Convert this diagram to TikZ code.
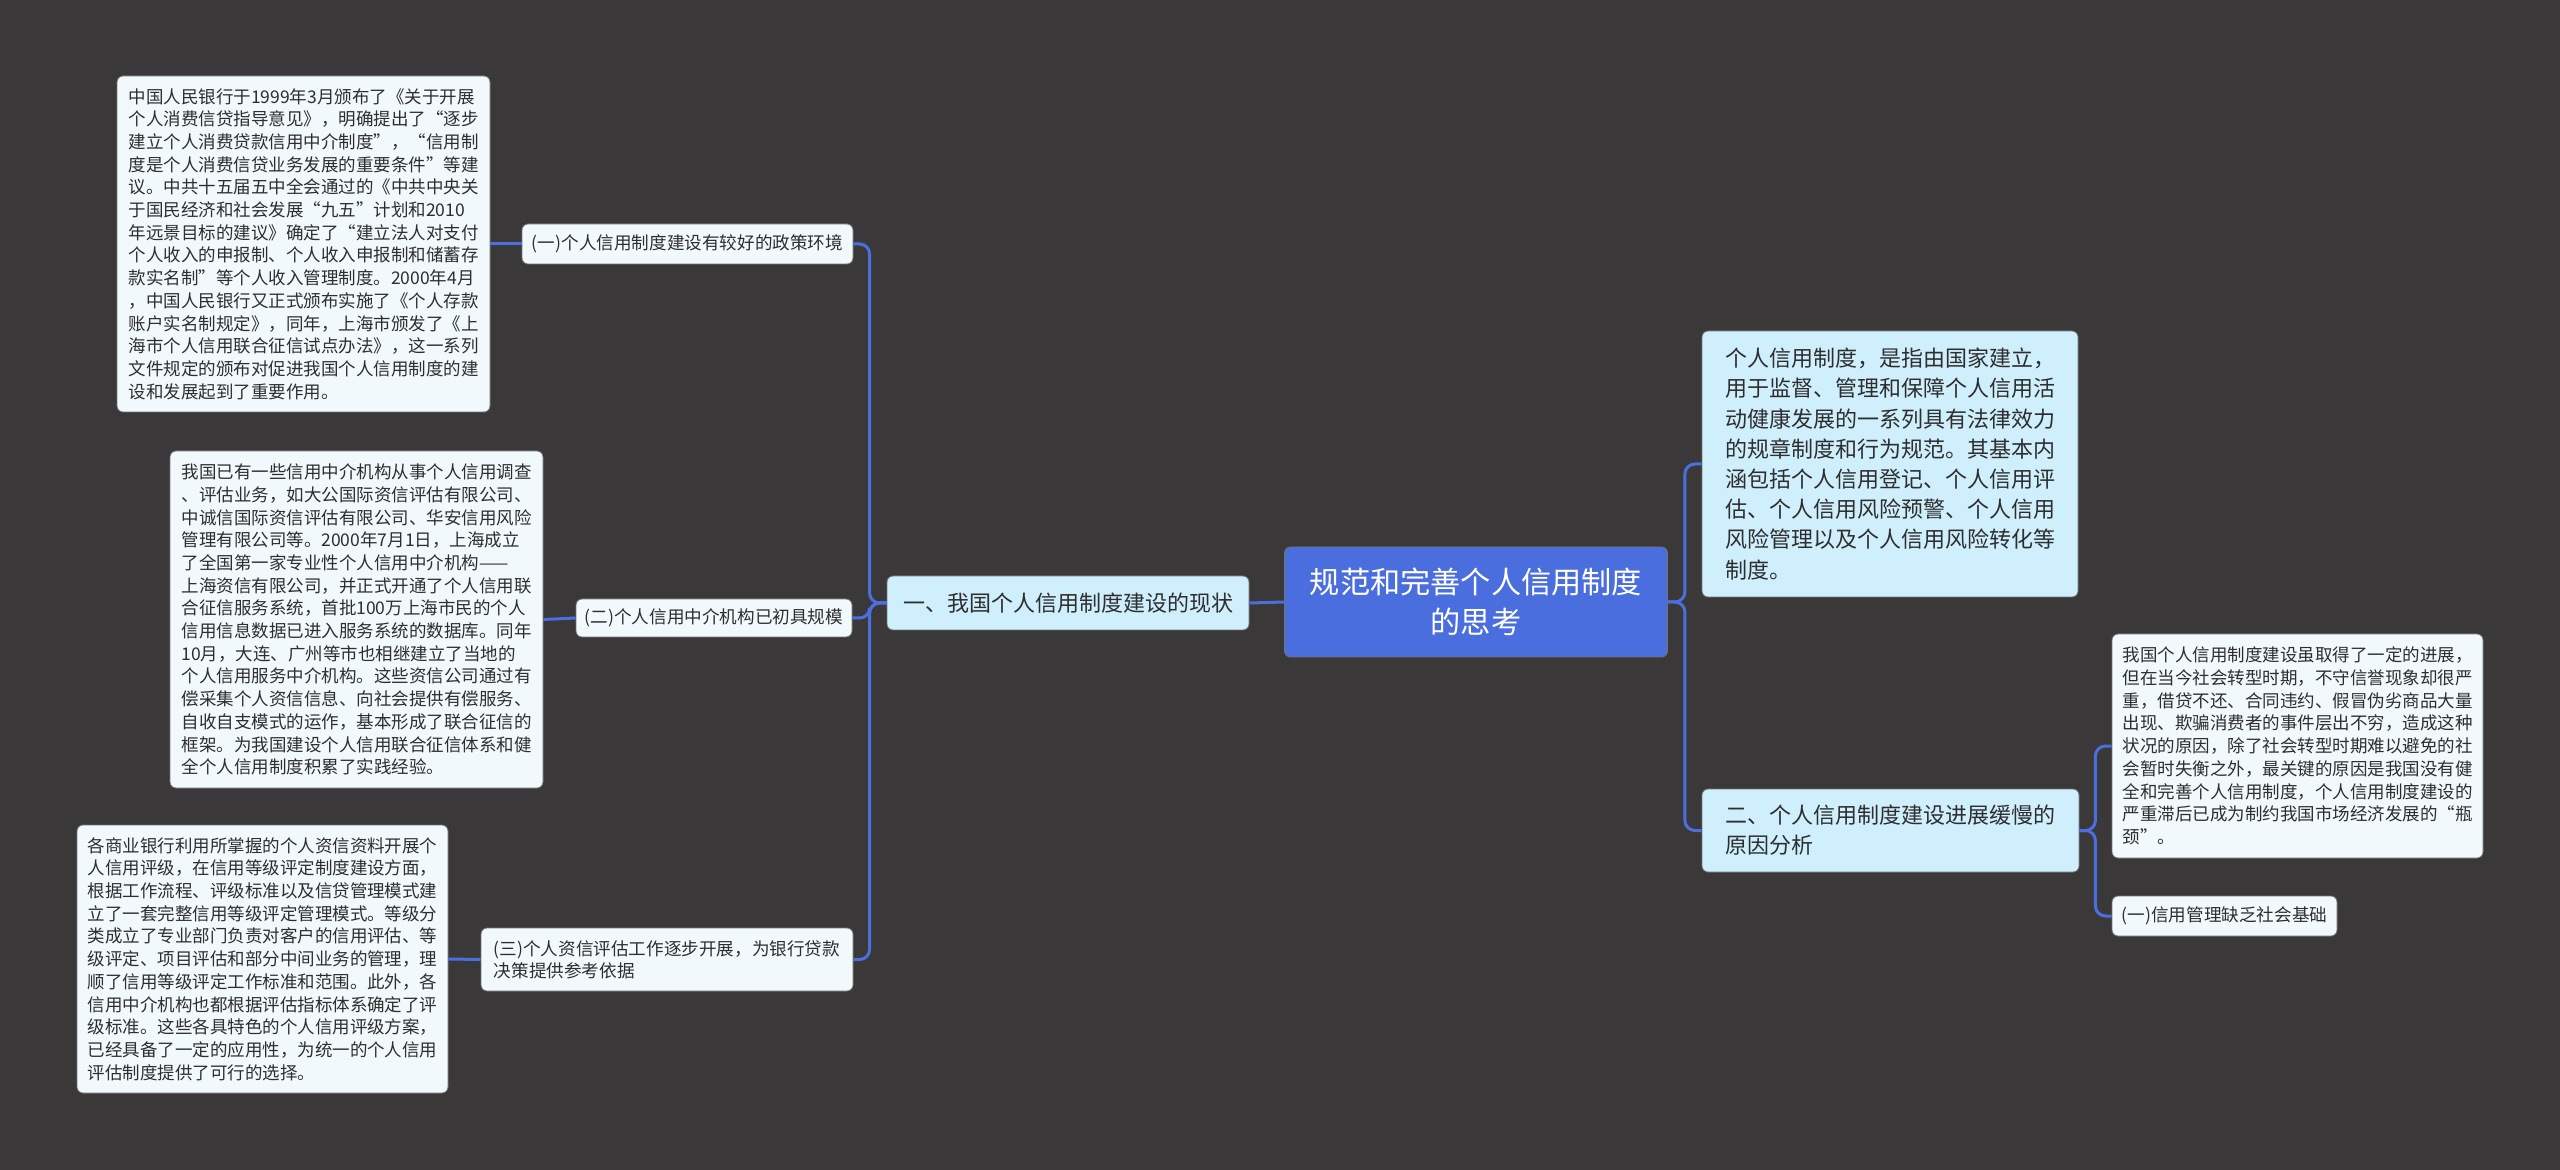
\documentclass[tikz,border=0pt]{standalone}
\usepackage{fontspec}
\setmainfont{Noto Sans CJK SC}
\usetikzlibrary{positioning,calc}
\definecolor{mapbg}{HTML}{3A3839}
\definecolor{mapline}{HTML}{4C6FDF}
\definecolor{maproot}{HTML}{4B6EDE}
\definecolor{maptint}{HTML}{CFEFFD}
\definecolor{mapleaf}{HTML}{F1F9FC}
\definecolor{maptext}{HTML}{2E2E2E}

\begin{document}
\begin{tikzpicture}[
  x=0.5pt, y=-0.5pt,
  wh/.style 2 args={minimum width=#1*0.5pt, minimum height=#2*0.5pt},
  box/.style={rounded corners=3pt, draw=black!55, line width=0.4pt, inner sep=0pt, text=maptext},
  rootbox/.style={box, fill=maproot, text=white, align=center, font=\fontsize{15.1}{20}\selectfont},
  topicbox/.style={box, fill=maptint, align=left, font=\fontsize{11}{15.1}\selectfont},
  subbox/.style={box, fill=mapleaf, align=left, font=\fontsize{8.8}{10.9}\selectfont},
  leafbox/.style={box, fill=mapleaf, align=left, font=\fontsize{8.75}{11.35}\selectfont},
  link/.style={draw=mapline, line width=1.5pt, rounded corners=5pt},
]

% canvas
\useasboundingbox (0,0) rectangle (2560,1170);
\fill[mapbg] (0,0) rectangle (2560,1170);

% ---------- centre ----------
\node[rootbox, wh={383}{110}] (root) at (1476,602) {规范和完善个人信用制度\\的思考};

% ---------- left branch ----------
\node[topicbox, wh={362}{54}] (now) at (1068,603) {一、我国个人信用制度建设的现状};

\node[subbox, wh={331}{40}] (policy) at (687.5,244) {(一)个人信用制度建设有较好的政策环境};
\node[subbox, wh={276}{38}] (agency) at (714,618) {(二)个人信用中介机构已初具规模};
\node[subbox, wh={372}{63}] (rating) at (667,959.5) {(三)个人资信评估工作逐步开展，为银行贷款\\决策提供参考依据};

\node[leafbox, wh={373}{336}] (policytxt) at (303.5,244) {中国人民银行于1999年3月颁布了《关于开展\\
个人消费信贷指导意见》，明确提出了“逐步\\
建立个人消费贷款信用中介制度”，“信用制\\
度是个人消费信贷业务发展的重要条件”等建\\
议。中共十五届五中全会通过的《中共中央关\\
于国民经济和社会发展“九五”计划和2010\\
年远景目标的建议》确定了“建立法人对支付\\
个人收入的申报制、个人收入申报制和储蓄存\\
款实名制”等个人收入管理制度。2000年4月\\
，中国人民银行又正式颁布实施了《个人存款\\
账户实名制规定》，同年，上海市颁发了《上\\
海市个人信用联合征信试点办法》，这一系列\\
文件规定的颁布对促进我国个人信用制度的建\\
设和发展起到了重要作用。};

\node[leafbox, wh={373}{337}] (agencytxt) at (356.5,619.5) {我国已有一些信用中介机构从事个人信用调查\\
、评估业务，如大公国际资信评估有限公司、\\
中诚信国际资信评估有限公司、华安信用风险\\
管理有限公司等。2000年7月1日，上海成立\\
了全国第一家专业性个人信用中介机构——\\
上海资信有限公司，并正式开通了个人信用联\\
合征信服务系统，首批100万上海市民的个人\\
信用信息数据已进入服务系统的数据库。同年\\
10月，大连、广州等市也相继建立了当地的\\
个人信用服务中介机构。这些资信公司通过有\\
偿采集个人资信信息、向社会提供有偿服务、\\
自收自支模式的运作，基本形成了联合征信的\\
框架。为我国建设个人信用联合征信体系和健\\
全个人信用制度积累了实践经验。};

\node[leafbox, wh={371}{268}] (ratingtxt) at (262.5,959) {各商业银行利用所掌握的个人资信资料开展个\\
人信用评级，在信用等级评定制度建设方面，\\
根据工作流程、评级标准以及信贷管理模式建\\
立了一套完整信用等级评定管理模式。等级分\\
类成立了专业部门负责对客户的信用评估、等\\
级评定、项目评估和部分中间业务的管理，理\\
顺了信用等级评定工作标准和范围。此外，各\\
信用中介机构也都根据评估指标体系确定了评\\
级标准。这些各具特色的个人信用评级方案，\\
已经具备了一定的应用性，为统一的个人信用\\
评估制度提供了可行的选择。};

% ---------- right branch ----------
\node[topicbox, wh={376}{266}] (define) at (1890,464) {个人信用制度，是指由国家建立，\\
用于监督、管理和保障个人信用活\\
动健康发展的一系列具有法律效力\\
的规章制度和行为规范。其基本内\\
涵包括个人信用登记、个人信用评\\
估、个人信用风险预警、个人信用\\
风险管理以及个人信用风险转化等\\
制度。};

\node[topicbox, wh={377}{83}] (slow) at (1890.5,830.5) {二、个人信用制度建设进展缓慢的\\原因分析};

\node[leafbox, wh={371}{224}] (slowtxt) at (2297.5,746) {我国个人信用制度建设虽取得了一定的进展，\\
但在当今社会转型时期，不守信誉现象却很严\\
重，借贷不还、合同违约、假冒伪劣商品大量\\
出现、欺骗消费者的事件层出不穷，造成这种\\
状况的原因，除了社会转型时期难以避免的社\\
会暂时失衡之外，最关键的原因是我国没有健\\
全和完善个人信用制度，个人信用制度建设的\\
严重滞后已成为制约我国市场经济发展的“瓶\\
颈”。};
\node[subbox, wh={225}{40}] (basis) at (2224.5,916) {(一)信用管理缺乏社会基础};

% ---------- connectors ----------
\draw[link] (root.west) -- (now.east);
\foreach \kid in {policy,agency,rating} {
  \draw[link] (now.west) -- ++(-17,0) |- (\kid.east);
}
\draw[link] (policytxt.east) -- (policy.west);
\draw[link] (agencytxt.east) -- (agency.west);
\draw[link] (ratingtxt.east) -- (rating.west);

\foreach \kid in {define,slow} {
  \draw[link] (root.east) -- ++(17,0) |- (\kid.west);
}
\foreach \kid in {slowtxt,basis} {
  \draw[link] (slow.east) -- ++(16,0) |- (\kid.west);
}

\end{tikzpicture}
\end{document}
